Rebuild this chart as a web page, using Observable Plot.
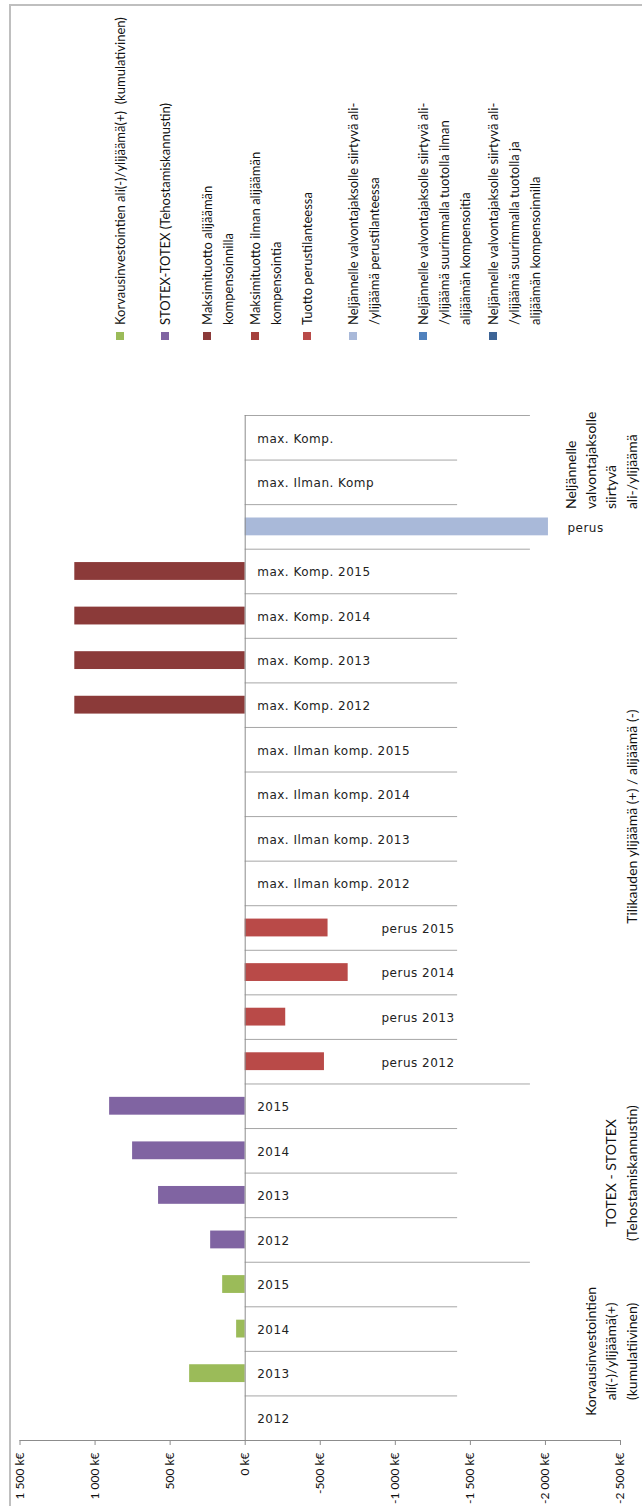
<!DOCTYPE html>
<html><head><meta charset="utf-8">
<script src="https://cdn.jsdelivr.net/npm/d3@7"></script>
<script src="https://cdn.jsdelivr.net/npm/@observablehq/plot@0.6"></script>
<style>
html,body{margin:0;padding:0;background:#fff;}
#wrap{position:relative;width:642px;height:1506px;overflow:hidden;font-family:Lato,sans-serif;}
#border{position:absolute;left:9px;top:4px;width:700px;height:1600px;border-left:2px solid #bfbfbf;border-top:2px solid #bfbfbf;}
#legend{position:absolute;left:110px;top:340px;width:340px;height:440px;transform-origin:0 0;transform:rotate(-90deg);}
.item{position:absolute;left:0;display:flex;align-items:flex-start;}
.sw{width:8px;height:8px;margin-top:6px;flex:none;}
.lab{margin-left:7px;font-size:13px;line-height:21px;white-space:pre;color:#111;}
#chart{position:absolute;left:0;top:350px;}
</style></head><body>
<div id="wrap"><div id="border"></div><div id="legend"></div><div id="chart"></div></div>
<script>
// ---- data ----
const seriesNames = [
  "Korvausinvestointien ali(-)/ylijäämä(+)  (kumulativinen)",
  "STOTEX-TOTEX (Tehostamiskannustin)",
  "Maksimituotto alijäämän\nkompensoinnilla",
  "Maksimituotto ilman alijäämän\nkompensointia",
  "Tuotto perustilanteessa",
  "Neljännelle valvontajaksolle siirtyvä ali-\n/ylijäämä perustilanteessa",
  "Neljännelle valvontajaksolle siirtyvä ali-\n/ylijäämä suurimmalla tuotolla ilman\nalijäämän kompensoitia",
  "Neljännelle valvontajaksolle siirtyvä ali-\n/ylijäämä suurimmalla tuotolla ja\nalijäämän kompensoinnilla"
];
const seriesColors = ["#9bbb59","#8064a2","#8b3a39","#a5403d","#b94a48","#a9b9d9","#4f81bd","#3d6496"];

const rowLabels = [
  "max. Komp.","max. Ilman. Komp","perus",
  "max. Komp. 2015","max. Komp. 2014","max. Komp. 2013","max. Komp. 2012",
  "max. Ilman komp. 2015","max. Ilman komp. 2014","max. Ilman komp. 2013","max. Ilman komp. 2012",
  "perus 2015","perus 2014","perus 2013","perus 2012",
  "2015","2014","2013","2012",
  "2015","2014","2013","2012"
];
const rowValues = [
  0, 0, -2020,
  1135, 1135, 1135, 1135,
  0, 0, 0, 0,
  -552, -686, -270, -528,
  903, 750, 577, 230,
  150, 57, 370, 0
];
const rowSeries = [7,6,5, 2,2,2,2, 3,3,3,3, 4,4,4,4, 1,1,1,1, 0,0,0,0];

const groupLabels = [
  "Neljännelle\nvalvontajaksolle\nsiirtyvä\nali-/ylijäämä",
  "Tilikauden ylijäämä (+) / alijäämä (-)",
  "TOTEX - STOTEX\n(Tehostamiskannustin)",
  "Korvausinvestointien\nali(-)/ylijäämä(+)\n(kumulatiivinen)"
];
const groupFirst = [0, 3, 15, 19];
const groupLast  = [2, 14, 18, 22];

const xTicks = [1500, 1000, 500, 0, -500, -1000, -1500, -2000, -2500];

// ---- legend (HTML, rotated) ----
const legendTops = [0, 45, 87, 135, 187, 233, 303, 373];
const legend = document.getElementById("legend");
seriesNames.forEach((name, k) => {
  const it = document.createElement("div");
  it.className = "item";
  it.style.top = legendTops[k] + "px";
  const sw = document.createElement("div");
  sw.className = "sw"; sw.style.background = seriesColors[k];
  const lab = document.createElement("div");
  lab.className = "lab"; lab.textContent = name;
  it.appendChild(sw); it.appendChild(lab);
  legend.appendChild(it);
});

// ---- chart ----
const n = rowLabels.length;
const rows = rowLabels.map((label, i) => ({i, label, value: rowValues[i], series: seriesNames[rowSeries[i]]}));
const SHORT = -1415, LONG = -1900;
const seps = d3.range(n).map(k => ({y: k - 0.5, long: groupFirst.includes(k)}));
const groups = groupLabels.map((g, k) => ({
  label: g,
  y: k === 0 ? groupFirst[k + 1] - 1.5 + 0.1 : (groupFirst[k] + groupLast[k]) / 2,
  anchor: k === 0 ? "start" : "middle"
}));
const fmt = d => (d < 0 ? "-" : "") + d3.format(",")(Math.abs(d)).replace(/,/g, " ") + " k€";

const isPerusYear = d => /^perus \d/.test(d.label);
const isPerusTotal = d => d.label === "perus";

const catFont = {fontFamily: "DejaVu Sans", fontSize: 12, fill: "#222"};
const grpFont = {fontFamily: "Lato", fontSize: 14, fill: "#111"};

const svg = Plot.plot({
  width: 642, height: 1156,
  marginTop: 65, marginBottom: 66, marginLeft: 19.5, marginRight: 22,
  x: {domain: [1500, -2500], axis: null, label: null},
  y: {domain: [-0.5, n - 0.5], reverse: true, axis: null},
  color: {domain: seriesNames, range: seriesColors},
  style: {background: "transparent", overflow: "visible"},
  marks: [
    Plot.rectX(rows.filter(d => d.value !== 0), {
      x1: 0, x2: "value", y1: d => d.i - 0.2, y2: d => d.i + 0.2, fill: "series"
    }),
    Plot.ruleY(seps, {y: "y", x1: 0, x2: d => d.long ? LONG : SHORT, stroke: "#a6a6a6", strokeWidth: 1}),
    Plot.ruleX([0], {y1: -0.5, y2: n - 0.5, stroke: "#8c8c8c"}),
    Plot.ruleY([n - 0.5], {x1: 1500, x2: -2500, stroke: "#8c8c8c"}),
    Plot.axisX({
      ticks: xTicks, tickSize: 5, tickPadding: 7, tickRotate: -90, tickFormat: fmt, label: null,
      stroke: "#8c8c8c", fill: "#111", fontSize: 12, fontFamily: "Lato"
    }),
    Plot.text(rows.filter(d => !isPerusYear(d) && !isPerusTotal(d)), {
      x: 0, y: "i", text: "label", dx: 12, dy: 1, textAnchor: "start", ...catFont
    }),
    Plot.text(rows.filter(isPerusYear), {
      x: SHORT, y: "i", text: "label", dx: -3, dy: 1, textAnchor: "end", ...catFont
    }),
    Plot.text(rows.filter(isPerusTotal), {
      x: "value", y: "i", text: "label", dx: 19, dy: 1, textAnchor: "start", ...catFont
    }),
    Plot.text(groups.filter(g => g.anchor === "middle"), {
      frameAnchor: "right", y: "y", text: "label", dx: 16, rotate: -90,
      lineAnchor: "bottom", textAnchor: "middle", lineHeight: 1.45, ...grpFont
    }),
    Plot.text(groups.filter(g => g.anchor === "start"), {
      frameAnchor: "right", y: "y", text: "label", dx: 16, rotate: -90,
      lineAnchor: "bottom", textAnchor: "start", lineHeight: 1.45, ...grpFont
    })
  ]
});
svg.querySelectorAll('g[font-family="DejaVu Sans"] text').forEach(t => t.setAttribute("letter-spacing", "0.5"));
document.getElementById("chart").appendChild(svg);
</script>
</body></html>
